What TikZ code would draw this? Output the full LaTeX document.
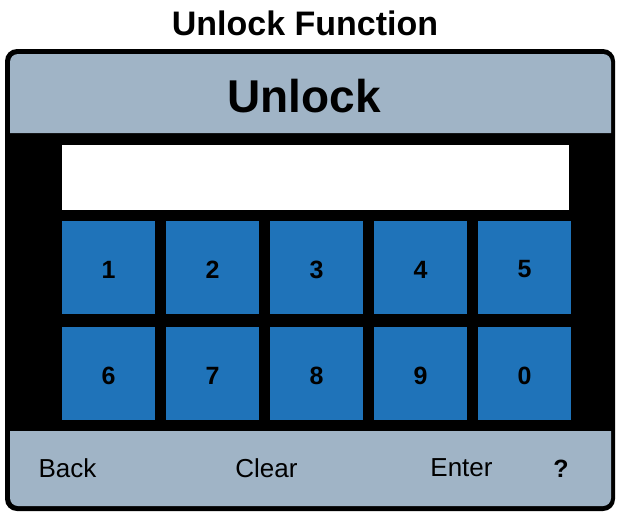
\documentclass[tikz,border=0pt]{standalone}
\usepackage{fontspec}
\setmainfont{Liberation Sans}
\definecolor{panelgrey}{RGB}{160,180,198}
\definecolor{keyblue}{RGB}{31,115,185}
\begin{document}
\begin{tikzpicture}[x=1pt,y=-1pt,
  keybox/.style={fill=keyblue, minimum width=93pt, minimum height=93pt, inner sep=0pt},
  digit/.style={inner sep=0pt, font=\fontsize{25}{30}\selectfont\bfseries, text=black},
  foottext/.style={inner sep=0pt, font=\fontsize{26}{31}\selectfont},
]
\useasboundingbox (0,0) rectangle (617,514);
% title
\node[inner sep=0pt, font=\fontsize{34}{40}\selectfont\bfseries] (title) at (305,23) {Unlock Function};
% device body
\fill[black, rounded corners=12pt] (5,49) rectangle (615,511);
% header
\fill[panelgrey] (10,133) -- (10,62) arc[start angle=180, end angle=270, x radius=8pt, y radius=-8pt]
  -- (603,54) arc[start angle=270, end angle=360, x radius=8pt, y radius=-8pt] -- (611,133) -- cycle;
\node[inner sep=0pt, font=\fontsize{46}{54}\selectfont\bfseries] (head) at (304,96) {Unlock};
% entry field
\node[fill=white, minimum width=507pt, minimum height=65pt, inner sep=0pt] (field) at (315.5,177.5) {};
% keys
\node[keybox] (k1) at (108.5,267) {};
\node[keybox] (k2) at (212.5,267) {};
\node[keybox] (k3) at (316.5,267) {};
\node[keybox] (k4) at (420.5,267) {};
\node[keybox] (k5) at (524.5,267) {};
\node[keybox] (k6) at (108.5,373) {};
\node[keybox] (k7) at (212.5,373) {};
\node[keybox] (k8) at (316.5,373) {};
\node[keybox] (k9) at (420.5,373) {};
\node[keybox] (k0) at (524.5,373) {};
\node[digit] (d1) at ([yshift=-2.5pt]k1.center) {1};
\node[digit] (d2) at ([yshift=-2.5pt]k2.center) {2};
\node[digit] (d3) at ([yshift=-2.5pt]k3.center) {3};
\node[digit] (d4) at ([yshift=-2.5pt]k4.center) {4};
\node[digit] (d5) at ([yshift=-2.5pt]k5.center) {5};
\node[digit] (d6) at ([yshift=-2.5pt]k6.center) {6};
\node[digit] (d7) at ([yshift=-2.5pt]k7.center) {7};
\node[digit] (d8) at ([yshift=-2.5pt]k8.center) {8};
\node[digit] (d9) at ([yshift=-2.5pt]k9.center) {9};
\node[digit] (d0) at ([yshift=-2.5pt]k0.center) {0};
% footer
\fill[panelgrey] (10,431) -- (10,498) arc[start angle=180, end angle=90, x radius=8pt, y radius=-8pt]
  -- (603,506) arc[start angle=90, end angle=0, x radius=8pt, y radius=-8pt] -- (611,431) -- cycle;
\node[foottext] (back) at (67.5,468) {Back};
\node[foottext] (clear) at (266.5,468) {Clear};
\node[foottext] (enter) at (461.5,468) {Enter};
\node[inner sep=0pt, font=\fontsize{25}{30}\selectfont\bfseries] (help) at (561,469) {?};
\end{tikzpicture}
\end{document}
